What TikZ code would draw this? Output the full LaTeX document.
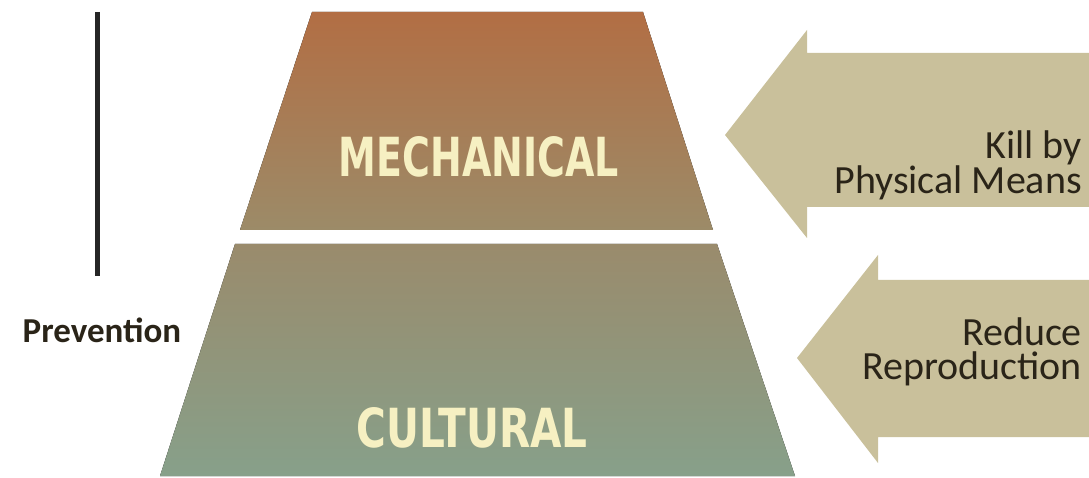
\documentclass[tikz,border=0pt]{standalone}
\usepackage{fontspec}
\setmainfont{Carlito}
\newfontfamily\heavyfont{DejaVu Sans}
\usepackage{xcolor}
\usepackage{tikz}
\usetikzlibrary{positioning,calc}
\definecolor{mechTop}{HTML}{B26E44}
\definecolor{mechBot}{HTML}{9C8B68}
\definecolor{cultTop}{HTML}{9A8B6C}
\definecolor{cultBot}{HTML}{87A08A}
\definecolor{arrowKhaki}{HTML}{C9C09B}
\definecolor{tierText}{HTML}{F6F0C2}
\definecolor{noteText}{HTML}{2A2418}

\begin{document}
\begin{tikzpicture}[x=1pt, y=-1pt,
  tier/.style={text=tierText, inner sep=0pt},
  note/.style={text=noteText, align=right, anchor=east, inner sep=0pt,
    font=\fontsize{40}{34}\selectfont}]
  \useasboundingbox (0,0) rectangle (1089,478);
  % pyramid tiers
  \fill[top color=mechTop, bottom color=mechBot]
    (312,12) -- (643,12) -- (713,230) -- (240,230) -- cycle;
  \fill[top color=cultTop, bottom color=cultBot]
    (235,244) -- (717,244) -- (795,476) -- (160,476) -- cycle;
  \node[tier] (mech) at (479,157)
    {\resizebox{280pt}{40pt}{\heavyfont\bfseries MECHANICAL}};
  \node[tier] (cult) at (472,428)
    {\resizebox{231pt}{40pt}{\heavyfont\bfseries CULTURAL}};
  % arrows pointing at the tiers
  \fill[arrowKhaki] (725,135) -- (807,30) -- (807,53) -- (1089,53)
    -- (1089,207) -- (807,207) -- (807,238) -- cycle;
  \fill[arrowKhaki] (797,358) -- (878,255) -- (878,280) -- (1089,280)
    -- (1089,437) -- (878,437) -- (878,463) -- cycle;
  \node[note] (kill) at (1082,165) {Kill by\\Physical Means};
  \node[note] (reduce) at (1082,352) {Reduce\\Reproduction};
  % prevention bar
  \coordinate (barTop) at (97,12);
  \coordinate (barBot) at (97,276);
  \draw[line width=5pt, black!85] (barTop) -- (barBot);
  \node[text=noteText, font=\fontsize{35}{35}\selectfont\bfseries,
    inner sep=0pt] (prev) at (102,330) {Prevention};
\end{tikzpicture}
\end{document}
